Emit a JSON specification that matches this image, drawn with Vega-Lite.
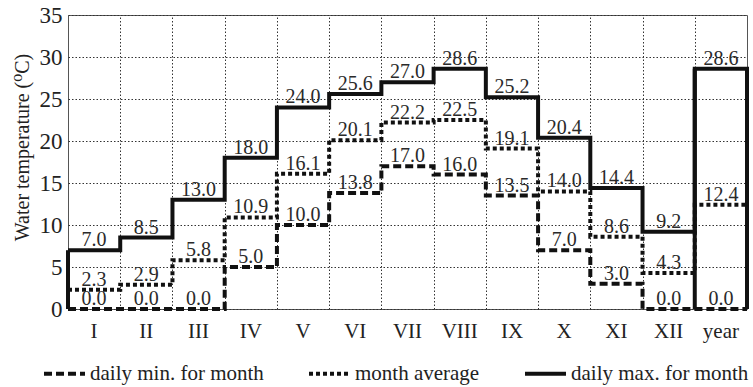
{
  "$schema": "https://vega.github.io/schema/vega-lite/v6.json",
  "width": 679,
  "height": 294,
  "autosize": "none",
  "padding": {"left": 68, "top": 15, "right": 6, "bottom": 78},
  "config": {
    "view": {"stroke": "#555", "strokeWidth": 1},
    "font": "Liberation Serif, DejaVu Serif, serif",
    "text": {"font": "Liberation Serif, DejaVu Serif, serif"},
    "axis": {
      "labelFont": "Liberation Serif, DejaVu Serif, serif",
      "titleFont": "Liberation Serif, DejaVu Serif, serif",
      "labelColor": "#222",
      "titleColor": "#222",
      "gridColor": "#333",
      "gridDash": [1.5, 2],
      "gridWidth": 1,
      "ticks": false,
      "domain": false
    },
    "legend": {
      "labelFont": "Liberation Serif, DejaVu Serif, serif"
    }
  },
  "data": {
    "values": [
      {"m": "I", "i": 0, "min": 0.0, "avg": 2.3, "max": 7.0},
      {"m": "II", "i": 1, "min": 0.0, "avg": 2.9, "max": 8.5},
      {"m": "III", "i": 2, "min": 0.0, "avg": 5.8, "max": 13.0},
      {"m": "IV", "i": 3, "min": 5.0, "avg": 10.9, "max": 18.0},
      {"m": "V", "i": 4, "min": 10.0, "avg": 16.1, "max": 24.0},
      {"m": "VI", "i": 5, "min": 13.8, "avg": 20.1, "max": 25.6},
      {"m": "VII", "i": 6, "min": 17.0, "avg": 22.2, "max": 27.0},
      {"m": "VIII", "i": 7, "min": 16.0, "avg": 22.5, "max": 28.6},
      {"m": "IX", "i": 8, "min": 13.5, "avg": 19.1, "max": 25.2},
      {"m": "X", "i": 9, "min": 7.0, "avg": 14.0, "max": 20.4},
      {"m": "XI", "i": 10, "min": 3.0, "avg": 8.6, "max": 14.4},
      {"m": "XII", "i": 11, "min": 0.0, "avg": 4.3, "max": 9.2},
      {"m": "year", "i": 12, "min": 0.0, "avg": 12.4, "max": 28.6},
      {"m": "end", "i": 13, "min": 0.0, "avg": 0.0, "max": 0.0}
    ]
  },
  "layer": [
    {
      "transform": [{"fold": ["min", "avg", "max"], "as": ["s", "v"]}],
      "mark": {"type": "line", "interpolate": "step-after", "strokeWidth": 4, "color": "#111", "strokeCap": "butt"},
      "encoding": {
        "x": {
          "field": "i", "type": "quantitative",
          "scale": {"domain": [0, 13], "nice": false, "zero": false},
          "axis": {"orient": "top", "values": [1, 2, 3, 4, 5, 6, 7, 8, 9, 10, 11, 12], "grid": true, "labels": false, "title": null}
        },
        "y": {
          "field": "v", "type": "quantitative",
          "scale": {"domain": [0, 35], "nice": false},
          "title": "Water temperature (⁰C)",
          "axis": {
            "values": [0, 5, 10, 15, 20, 25, 30, 35],
            "grid": true,
            "labelFontSize": 23,
            "labelPadding": 6,
            "titleFontSize": 20,
            "titleFontWeight": "normal",
            "titleX": -46,
            "titleY": 132,
            "titleBaseline": "middle"
          }
        },
        "strokeDash": {
          "field": "s", "type": "nominal",
          "scale": {"domain": ["min", "avg", "max"], "range": [[8, 4], [4, 3], [1, 0]]},
          "legend": {
            "orient": "none",
            "legendX": -26,
            "legendY": 336,
            "direction": "horizontal",
            "title": null,
            "labelExpr": "datum.label == 'min' ? 'daily min. for month' : datum.label == 'avg' ? 'month average' : 'daily max. for month'",
            "symbolType": "stroke",
            "symbolSize": 1681,
            "symbolStrokeWidth": 4,
            "symbolStrokeColor": "#111",
            "labelFontSize": 21,
            "labelColor": "#222",
            "labelOffset": 3,
            "labelLimit": 300,
            "columnPadding": 37
          }
        }
      }
    },
    {
      "transform": [{"filter": "datum.m == 'I' || datum.m == 'year'"}],
      "mark": {"type": "rule", "strokeWidth": 4, "color": "#111"},
      "encoding": {
        "x": {"field": "i", "type": "quantitative", "scale": {"domain": [0, 13], "nice": false, "zero": false}, "axis": null},
        "y": {"field": "max", "type": "quantitative", "title": "Water temperature (⁰C)"},
        "y2": {"datum": 0}
      }
    },
    {
      "transform": [
        {"filter": "datum.m != 'end'"},
        {"fold": ["min", "avg", "max"], "as": ["s", "v"]}
      ],
      "mark": {"type": "text", "fontSize": 20, "color": "#2a2a2a", "baseline": "alphabetic", "dy": -4},
      "encoding": {
        "x": {
          "field": "m", "type": "nominal", "sort": null,
          "scale": {"type": "band", "domain": ["I", "II", "III", "IV", "V", "VI", "VII", "VIII", "IX", "X", "XI", "XII", "year"], "paddingInner": 0, "paddingOuter": 0},
          "axis": {"orient": "bottom", "title": null, "labelAngle": 0, "labelFontSize": 21, "labelPadding": 11, "grid": false}
        },
        "y": {"field": "v", "type": "quantitative", "title": "Water temperature (⁰C)"},
        "text": {"field": "v", "type": "quantitative", "format": ".1f"}
      }
    }
  ],
  "resolve": {"scale": {"x": "independent"}, "axis": {"x": "independent"}}
}
